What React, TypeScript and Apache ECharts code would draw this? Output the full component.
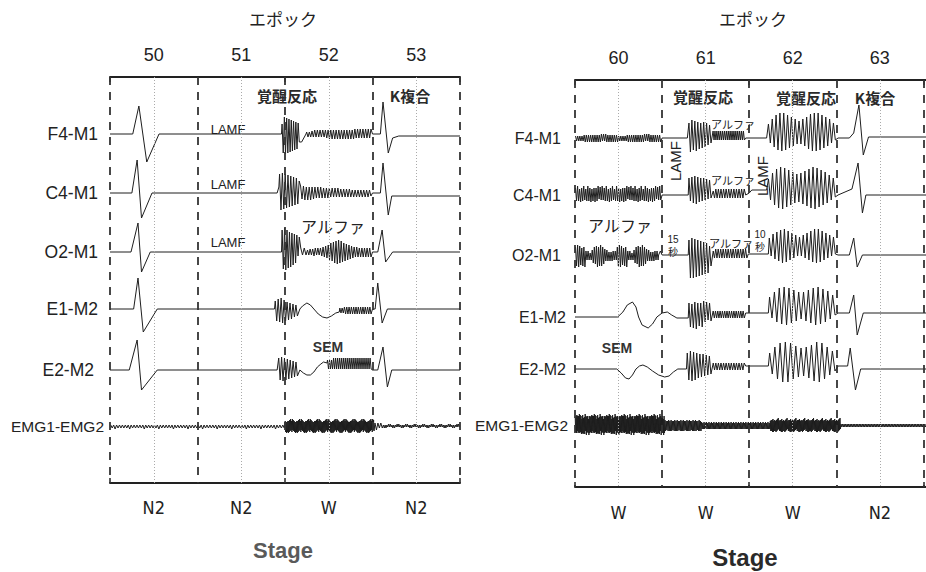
import React, { useEffect, useRef } from "react";
import * as echarts from "echarts";

// ---------- data ----------
const EPOCHS_L = ["50", "51", "52", "53"];
const STAGES_L = ["N2", "N2", "W", "N2"];
const EPOCHS_R = ["60", "61", "62", "63"];
const STAGES_R = ["W", "W", "W", "N2"];
const CHANNELS = ["F4-M1", "C4-M1", "O2-M1", "E1-M2", "E2-M2", "EMG1-EMG2"];

// Epoch boundaries (dashed) and epoch mid-lines (dotted), in epoch units
const BOUNDS = [0, 1, 2, 3, 4];
const MIDS = [0.5, 1.5, 2.5, 3.5];

// A trace is a list of pieces: [x, amplitude] points (x in epochs),
// or ["~", x0, x1, halfCycleAmplitudes(base36), dcOffset, repeats] oscillations.
type Pt = [number, number];
type Osc = ["~", number, number, string, number, number?];
type Piece = Pt | Osc;

const L_F4: Piece[] = [
  [0, 0], [0.26, 0], [0.33, 28], [0.42, -28], [0.56, 0], [1.96, 0],
  ["~", 1.96, 2.17, "ajhkgjfiehdgcfb8", 0],
  [2.19, -8], [2.24, 0],
  ["~", 2.24, 2.99, "2323334343434344454545454545454545455454545454545", 0],
  [3.0, 0], [3.09, 0], [3.12, 32], [3.18, -19], [3.23, -4], [3.3, -2], [4, -2],
];
const L_C4: Piece[] = [
  [0, 0], [0.25, 0], [0.31, 33], [0.36, -25], [0.48, 0], [1.91, 0], [1.93, 6],
  ["~", 1.93, 2.17, "gkhjgifhegdfce9", 3],
  ["~", 2.17, 2.99, "76776767666565655555545454544444444434343434343433", 0],
  [3.0, 0], [3.09, 0], [3.12, 30], [3.18, -22], [3.22, -3], [4, -3],
];
const L_O2: Piece[] = [
  [0, 0], [0.24, 0], [0.32, 29], [0.36, -20], [0.46, 0], [1.96, 0],
  ["~", 1.96, 2.17, "hmjnhlfkeidgc9a", 5],
  ["~", 2.17, 2.25, "4343", 0],
  ["~", 2.25, 2.99, "23333443434455667899abbccbba9988776655554545454545", 0],
  [3.0, 0], [3.06, 0], [3.11, 22], [3.15, -10], [3.23, 0], [4, 0],
];
const L_E1: Piece[] = [
  [0, 0], [0.27, 0], [0.32, 31], [0.38, -23], [0.54, 0], [1.88, 0],
  ["~", 1.88, 2.15, "8cadbe9c7b6a5847", 0],
  [2.17, 0], [2.2, 3], [2.25, 6], [2.29, 4], [2.33, 0], [2.38, -5], [2.43, -8],
  [2.48, -9], [2.53, -7], [2.58, -4], [2.62, -3],
  ["~", 2.62, 2.99, "2323343434343434343434343434", -1],
  [3.0, 0], [3.03, 0], [3.06, 26], [3.11, -14], [3.17, 0], [4, 0],
];
const L_E2: Piece[] = [
  [0, 0], [0.22, 0], [0.31, 30], [0.36, -20], [0.54, 0], [1.91, 0],
  ["~", 1.92, 2.15, "acbdac9b8a7968", 2],
  [2.17, 0], [2.21, -3], [2.25, -5], [2.29, -5], [2.33, -2], [2.37, 3],
  [2.41, 6], [2.44, 8], [2.48, 7],
  ["~", 2.48, 2.99, "45454565656565656565656565656565656565656565", 6],
  [3.0, 0], [3.06, 0], [3.12, 23], [3.17, -17], [3.22, 0], [4, 0],
];
const L_EMG: Piece[] = [
  ["~", 0, 2.0, "1213121212", 0, 12],
  ["~", 2.0, 3.02, "56474657566574567465", 0, 10],
  ["~", 3.02, 3.12, "343232", 0],
  ["~", 3.12, 4, "1212112121", 0, 9],
];

const R_F4: Piece[] = [
  ["~", 0, 0.99, "2323232334343434343434344343443434343434", 0, 2],
  [1.0, 0], [1.29, 0],
  ["~", 1.3, 1.57, "ajdhcibgafbeac8a", 5],
  ["~", 1.58, 1.95, "4545454545454545454545454545454545", 3],
  [1.96, 0], [2.2, 0],
  ["~", 2.21, 3.0, "8bdfhijjjihgfedcbcdefhijjjjihgfedb98", 6],
  [3.02, 0], [3.15, 0], [3.2, 5], [3.26, 33], [3.31, -17], [3.37, 1], [4.03, 1],
];
const R_C4: Piece[] = [
  ["~", 0, 0.99, "6787586786578768576867857686", 1, 3],
  [1.0, 0], [1.3, 0],
  ["~", 1.3, 1.57, "adbfcgbeadac9b8a", 7],
  ["~", 1.58, 1.95, "3454545454545454545454545", 1],
  [1.96, 0], [2.0, 2], [2.03, 5], [2.2, 5],
  ["~", 2.21, 3.0, "9cfhjkllkjihgfeefghijkllkjihgfdca9", 7],
  [3.02, 0], [3.18, 6], [3.25, 32], [3.3, -18], [3.34, 0], [4.03, 0],
];
const R_O2: Piece[] = [
  ["~", 0, 0.96, "9abba98a9b5454346798ab9aba98756545455454", -1, 2],
  [0.96, 0], [0.98, 4], [1.0, 0], [1.3, 0],
  ["~", 1.3, 1.57, "fnhngmflekdjci9b", 0],
  ["~", 1.58, 1.98, "3454545454545454545454545454", 1],
  [1.99, 1], [2.22, 1],
  ["~", 2.22, 3.0, "8acdefghhgfedcba9abcdefghhhgfedcba98", 9],
  [3.02, 0], [3.15, 0], [3.2, 17], [3.24, -12], [3.3, 0], [4.03, 0],
];
const R_E1: Piece[] = [
  [0, 0], [0.49, 0], [0.55, 5], [0.6, 12], [0.66, 15], [0.7, 10], [0.73, 0],
  [0.77, -8], [0.84, -11], [0.89, -7], [0.94, 0], [1.0, 4], [1.06, 5],
  [1.11, 2], [1.17, -1], [1.3, -1],
  ["~", 1.3, 1.57, "ae9fbgadaec9b7a8", 4],
  ["~", 1.58, 1.95, "3434343434343434343434343434", 3],
  [1.96, 4], [2.22, 4],
  ["~", 2.22, 3.0, "9cegiijjihgfedefghijjihgfdb9", 11],
  [3.02, 4], [3.15, 4], [3.2, 22], [3.24, -18], [3.31, 4], [4.03, 4],
];
const R_E2: Piece[] = [
  [0, 0], [0.48, 0], [0.53, -4], [0.58, -9], [0.62, -10], [0.66, -6], [0.7, 0],
  [0.74, 3], [0.78, 4], [0.83, 2], [0.89, -2], [0.96, -6], [1.03, -8],
  [1.08, -7], [1.13, -3], [1.18, 0], [1.28, 0],
  ["~", 1.28, 1.57, "bgdhcgbeadac9b8a", 5],
  ["~", 1.58, 1.95, "3434343434343434343434343", 3],
  [1.96, 3], [2.22, 3],
  ["~", 2.22, 3.0, "9cfhjkkkjhgfeefghjkkjhfdb9", 7],
  [3.02, 3], [3.13, 3], [3.16, 21], [3.22, -21], [3.28, 0], [4.03, 0],
];
const R_EMG: Piece[] = [
  ["~", 0, 1.03, "8798a69897b8a79968a97889b69a87986a98", 0, 6],
  ["~", 1.03, 1.45, "5645465646", 0, 6],
  ["~", 1.45, 2.24, "3424342434243424", 0, 7],
  ["~", 2.24, 3.05, "46565767465647566574", 0, 8],
  ["~", 3.05, 4.03, "1212", 0, 28],
];

const TRACES_L = [L_F4, L_C4, L_O2, L_E1, L_E2, L_EMG];
const TRACES_R = [R_F4, R_C4, R_O2, R_E1, R_E2, R_EMG];

// ---------- layout ----------
const OFFSETS_L = [57, 116, 175, 232, 293, 349];
const OFFSETS_R = [58, 115, 175, 237, 289, 345];

function expand(pieces: Piece[]): Pt[] {
  const out: Pt[] = [];
  for (const pc of pieces) {
    if (pc[0] === "~") {
      const [, x0, x1, s, off, reps = 1] = pc as Osc;
      const n = s.length * (reps as number);
      const dx = (x1 - x0) / n;
      for (let i = 0; i < n; i++) {
        const a = parseInt(s[i % s.length], 36);
        out.push([x0 + (i + 0.5) * dx, off + (i % 2 === 0 ? a : -a)]);
      }
    } else out.push(pc as Pt);
  }
  return out;
}

const SANS = "'Liberation Sans', Arial, Helvetica, sans-serif";
const NARROW = "'Liberation Sans Narrow', 'DejaVu Sans Condensed', 'Liberation Sans', sans-serif";
const JP = "'Noto Sans CJK JP', 'Noto Sans CJK SC', sans-serif";

function txt(x: number, y: number, text: string, fontSize: number, extra: any = {}) {
  const { align = "center", font = SANS, weight = "normal", fill = "#222", rotation = 0 } = extra;
  return {
    type: "text",
    x,
    y,
    rotation,
    silent: true,
    style: {
      text,
      fontSize,
      fontFamily: font,
      fontWeight: weight,
      fill,
      textAlign: align,
      textVerticalAlign: "middle",
    },
  };
}

export default function App() {
  const ref = useRef<HTMLDivElement>(null);
  useEffect(() => {
    if (!ref.current) return;
    const chart = echarts.init(ref.current, undefined, { renderer: "svg" });

    const markLine = {
      silent: true,
      symbol: ["none", "none"],
      label: { show: false },
      emphasis: { disabled: true },
      data: [
        ...BOUNDS.map((v) => ({ xAxis: v, lineStyle: { type: [8, 7], width: 1.8, color: "#333" } })),
        ...MIDS.map((v) => ({ xAxis: v, lineStyle: { type: [1, 2], width: 1, color: "#aaa" } })),
      ],
    };

    const mkSeries = (traces: Piece[][], offsets: number[], g: number) =>
      traces.map((tr, i) => ({
        type: "line",
        xAxisIndex: g * 2,
        yAxisIndex: g,
        data: expand(tr).map(([x, a]) => [x, offsets[i] - a]),
        symbol: "none",
        silent: true,
        lineStyle: { color: "#1e1e1e", width: 1 },
        emphasis: { disabled: true },
        markLine: i === 0 ? markLine : undefined,
        z: 3,
      }));

    const topAxis = (grid: number, max: number, labels: string[]) => ({
      type: "value",
      gridIndex: grid,
      position: "top",
      min: 0,
      max,
      axisLine: { show: true, lineStyle: { color: "#222", width: 2 } },
      axisTick: { show: true, inside: true, length: 5, customValues: [0, 2, 4], lineStyle: { color: "#222", width: 1.5 } },
      axisLabel: {
        customValues: MIDS,
        formatter: (v: number) => labels[Math.floor(v)] ?? "",
        fontSize: 18,
        color: "#222",
        fontFamily: SANS,
        margin: 13,
      },
      splitLine: { show: false },
    });
    const bottomAxis = (grid: number, max: number, labels: string[], margin: number) => ({
      type: "value",
      gridIndex: grid,
      position: "bottom",
      min: 0,
      max,
      axisLine: { show: true, onZero: false, lineStyle: { color: "#222", width: 2 } },
      axisTick: { show: true, inside: true, length: 5, customValues: [0, 2, 4], lineStyle: { color: "#222", width: 1.5 } },
      axisLabel: {
        customValues: MIDS,
        formatter: (v: number) => labels[Math.floor(v)] ?? "",
        fontSize: 18,
        color: "#222",
        fontFamily: NARROW,
        margin,
      },
      splitLine: { show: false },
    });

    const graphic = [
      txt(283, 18, "エポック", 17, { font: JP }),
      txt(753, 18, "エポック", 17, { font: JP }),
      txt(283, 550, "Stage", 22, { weight: "bold", fill: "#5a5a5a" }),
      txt(745, 557, "Stage", 24, { weight: "bold", fill: "#2a2a2a" }),
      // channel labels, left panel
      ...CHANNELS.map((c, i) =>
        txt(i === 5 ? 104 : i === 4 ? 94 : 98, 77 + OFFSETS_L[i], c, i === 5 ? 15.5 : 17.5, { align: "right" })
      ),
      // channel labels, right panel
      ...CHANNELS.map((c, i) =>
        txt(i === 5 ? 568 : i >= 3 ? 566 : 561, 80 + OFFSETS_R[i], c, i === 5 ? 15.5 : 16, { align: "right" })
      ),
      // annotations, left panel
      txt(287, 95, "覚醒反応", 15, { font: JP, weight: "bold", fill: "#2a2a2a" }),
      txt(410, 95, "K複合", 15, { font: JP, weight: "bold", fill: "#2a2a2a" }),
      txt(228, 129, "LAMF", 13),
      txt(228, 184, "LAMF", 13),
      txt(228, 242, "LAMF", 13),
      txt(333, 226, "アルファ", 16, { font: JP }),
      txt(328, 347, "SEM", 14, { weight: "bold", fill: "#333" }),
      // annotations, right panel
      txt(703, 96, "覚醒反応", 15, { font: JP, weight: "bold", fill: "#2a2a2a" }),
      txt(806, 97, "覚醒反応", 15, { font: JP, weight: "bold", fill: "#2a2a2a" }),
      txt(875, 97, "K複合", 15, { font: JP, weight: "bold", fill: "#2a2a2a" }),
      txt(733, 124, "アルファ", 11, { font: JP }),
      txt(733, 180, "アルファ", 11, { font: JP }),
      txt(731, 243, "アルファ", 11, { font: JP }),
      txt(620, 225, "アルファ", 16, { font: JP }),
      txt(675, 161, "LAMF", 15, { rotation: Math.PI / 2 }),
      txt(762, 176, "LAMF", 15, { rotation: Math.PI / 2 }),
      txt(673, 239, "15", 10),
      txt(673, 251, "秒", 10, { font: JP }),
      txt(760, 234, "10", 10),
      txt(760, 246, "秒", 10, { font: JP }),
      txt(617, 348, "SEM", 14, { weight: "bold", fill: "#333" }),
    ];

    chart.setOption({
      animation: false,
      backgroundColor: "#ffffff",
      grid: [
        { left: 110, right: 466, top: 77, bottom: 89 },
        { left: 575, right: 0, top: 80, bottom: 85 },
      ],
      xAxis: [
        topAxis(0, 4, EPOCHS_L),
        bottomAxis(0, 4, STAGES_L, 15),
        topAxis(1, 4.03, EPOCHS_R),
        bottomAxis(1, 4.03, STAGES_R, 16),
      ],
      yAxis: [
        { type: "value", gridIndex: 0, min: 0, max: 406, inverse: true, show: false },
        { type: "value", gridIndex: 1, min: 0, max: 407, inverse: true, show: false },
      ],
      series: [...mkSeries(TRACES_L, OFFSETS_L, 0), ...mkSeries(TRACES_R, OFFSETS_R, 1)],
      graphic,
    });
    return () => chart.dispose();
  }, []);

  return (
    <div
      ref={ref}
      style={{ position: "fixed", left: 0, top: 0, width: 926, height: 572, background: "#fff" }}
    />
  );
}
